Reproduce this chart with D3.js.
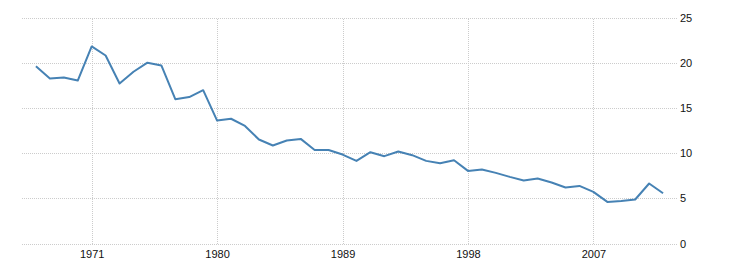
<!DOCTYPE html>
<html>
<head>
<meta charset="utf-8">
<script src="https://cdn.jsdelivr.net/npm/d3@7"></script>
<style>
  body { margin: 0; background: #fff; }
  .grid line { stroke: #cccccc; stroke-dasharray: 1,1; shape-rendering: crispEdges; }
  .tick text { font-family: Arial, "Liberation Sans", sans-serif; font-size: 11px; fill: #111; }
</style>
</head>
<body>
<div id="chart"></div>
<script>
var years = d3.range(1967, 2013);
var values = [
  19.6, 18.25, 18.36, 18.03, 21.8, 20.8, 17.7, 19.0, 20.0, 19.7,
  15.96, 16.2, 16.96, 13.6, 13.8, 13.0, 11.5, 10.84, 11.4, 11.57,
  10.35, 10.35, 9.84, 9.14, 10.1, 9.66, 10.17, 9.77, 9.14, 8.88,
  9.21, 8.03, 8.18, 7.81, 7.37, 6.97, 7.19, 6.75, 6.19, 6.37,
  5.71, 4.6, 4.71, 4.87, 6.64, 5.56
];
var xTicks = [1971, 1980, 1989, 1998, 2007];
var yTicks = [0, 5, 10, 15, 20, 25];

(function () {
  var width = 730, height = 275;
  // plot edges (note: "top" is a reserved window global, so use other names)
  var plotLeft = 22, plotRight = 677, plotTop = 17.5, plotBottom = 243.5;

  var svg = d3.select("#chart").append("svg")
    .attr("width", width)
    .attr("height", height);

  // Scales.
  var x = d3.scaleLinear().domain([1966, 2013]).range([plotLeft, plotRight]);
  var y = d3.scaleLinear().domain([0, 25]).range([plotBottom, plotTop]);

  // Horizontal grid + right labels.
  var yAxis = svg.append("g")
    .attr("class", "grid")
    .attr("transform", "translate(" + plotRight + ",0)")
    .call(d3.axisRight(y).tickValues(yTicks).tickSize(-(plotRight - plotLeft)).tickPadding(3));
  yAxis.select(".domain").remove();

  // Vertical grid + bottom labels.
  var xAxis = svg.append("g")
    .attr("class", "grid")
    .attr("transform", "translate(0," + plotBottom + ")")
    .call(d3.axisBottom(x).tickValues(xTicks).tickFormat(d3.format("d"))
      .tickSize(-(plotBottom - plotTop)).tickPadding(7));
  xAxis.select(".domain").remove();

  // The line.
  var line = d3.line()
    .x(function (d, i) { return x(years[i]); })
    .y(function (d) { return y(d); });

  svg.append("path")
    .datum(values)
    .attr("fill", "none")
    .attr("stroke", "#4682b4")
    .attr("stroke-width", 2)
    .attr("stroke-linejoin", "round")
    .attr("d", line);
})();
</script>
</body>
</html>
